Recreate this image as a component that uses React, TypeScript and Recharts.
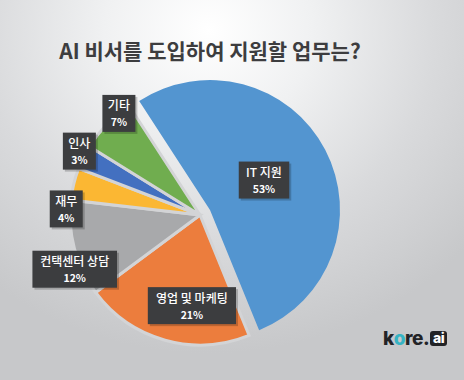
import React from "react";
import { PieChart, Pie, Cell } from "recharts";

// chart values
const categories = ["IT 지원", "영업 및 마케팅", "컨택센터 상담", "재무", "인사", "기타"];
const shares = [53, 21, 12, 4, 3, 7];
const colors = ["#5395d0", "#ec7d3d", "#a8a9ab", "#fbb733", "#4370c0", "#70ad4f"];

const pieData = categories.map((name, i) => ({ name, value: shares[i] }));

// label placement: radius fraction + angle nudge (deg)
const labelPlace = [
  { r: 0.475, da: 1.4 },
  { r: 0.7, da: 10.5 },
  { r: 1.05, da: 8.4 },
  { r: 1.03, da: 11.2 },
  { r: 1.05, da: -1.5 },
  { r: 1.0, da: -7 },
];

const RADIAN = Math.PI / 180;
const GAP = "#d3d4d6";
const FONT = '"Noto Sans CJK KR", "Noto Sans", sans-serif';

const textW = (s: string, fs: number) => {
  let w = 0;
  for (const ch of s) {
    if (/[\uac00-\ud7a3]/.test(ch)) w += fs;
    else if (ch === " ") w += fs * 0.3;
    else if (ch === "%") w += fs * 0.85;
    else w += fs * 0.58;
  }
  return w;
};

const makeLabel = (only: (i: number) => boolean) => (props: any) => {
  const { cx, cy, midAngle, outerRadius, index } = props;
  if (!only(index)) return null;
  const place = labelPlace[index];
  const a = (midAngle + place.da) * RADIAN;
  const r = outerRadius * place.r;
  const x = cx + r * Math.cos(a);
  const y = cy - r * Math.sin(a);
  const name = categories[index];
  const pct = `${shares[index]}%`;
  const w = Math.max(textW(name, 12), textW(pct, 10.5)) + 9;
  const h = 37;
  return (
    <g>
      <rect x={x - w / 2 + 2} y={y - h / 2 + 2} width={w} height={h} fill="#000" opacity={0.2} />
      <rect x={x - w / 2} y={y - h / 2} width={w} height={h} fill="#3c3d3f" />
      <text x={x} y={y - 3} textAnchor="middle" fill="#fff" fontSize={12} fontWeight={500} fontFamily={FONT}>
        {name}
      </text>
      <text x={x} y={y + 13} textAnchor="middle" fill="#fff" fontSize={10.5} fontWeight={700} fontFamily={FONT}>
        {pct}
      </text>
    </g>
  );
};

export default function App() {
  return (
    <div
      style={{
        position: "absolute",
        left: 0,
        top: 0,
        width: 464,
        height: 380,
        overflow: "hidden",
        background:
          "radial-gradient(ellipse 75% 85% at 45% 8%, #ffffff 0%, #f0f1f2 30%, #d9dadc 65%, #c7c8ca 100%)",
      }}
    >
      <div
        style={{
          position: "absolute",
          left: 0,
          top: 37,
          width: 420,
          textAlign: "center",
          fontFamily: FONT,
          fontWeight: 700,
          fontSize: 21,
          color: "#3d3d3f",
          lineHeight: "26px",
        }}
      >
        AI 비서를 도입하여 지원할 업무는?
      </div>
      <PieChart width={464} height={380} style={{ position: "absolute", left: 0, top: 0 }}>
        <Pie
          data={pieData}
          dataKey="value"
          nameKey="name"
          cx={195}
          cy={210}
          outerRadius={130}
          startAngle={123}
          endAngle={-237}
          stroke={GAP}
          strokeWidth={3}
          labelLine={false}
          label={makeLabel((i) => i !== 0)}
          isAnimationActive={false}
        >
          {pieData.map((d, i) => (
            <Cell key={d.name} fill={i === 0 ? "transparent" : colors[i]} stroke={i === 0 ? "none" : GAP} />
          ))}
        </Pie>
        <Pie
          data={pieData}
          dataKey="value"
          nameKey="name"
          cx={205}
          cy={205}
          outerRadius={130}
          startAngle={123}
          endAngle={-237}
          stroke="none"
          labelLine={false}
          label={makeLabel((i) => i === 0)}
          isAnimationActive={false}
        >
          {pieData.map((d, i) => (
            <Cell key={d.name} fill={i === 0 ? colors[0] : "transparent"} />
          ))}
        </Pie>
      </PieChart>
      <div
        style={{
          position: "absolute",
          left: 383,
          top: 327,
          fontFamily: "Inter, Roboto, sans-serif",
          fontWeight: 800,
          fontSize: 19,
          letterSpacing: -0.5,
          color: "#222326",
          display: "flex",
          alignItems: "center",
        }}
      >
        <span>k</span>
        <span style={{ color: "#35b3c3" }}>o</span>
        <span>re.</span>
        <span
          style={{
            marginLeft: 1,
            background: "#222326",
            color: "#fff",
            borderRadius: 3,
            fontSize: 14,
            lineHeight: "14px",
            padding: "0 3px 1px",
          }}
        >
          ai
        </span>
      </div>
    </div>
  );
}
